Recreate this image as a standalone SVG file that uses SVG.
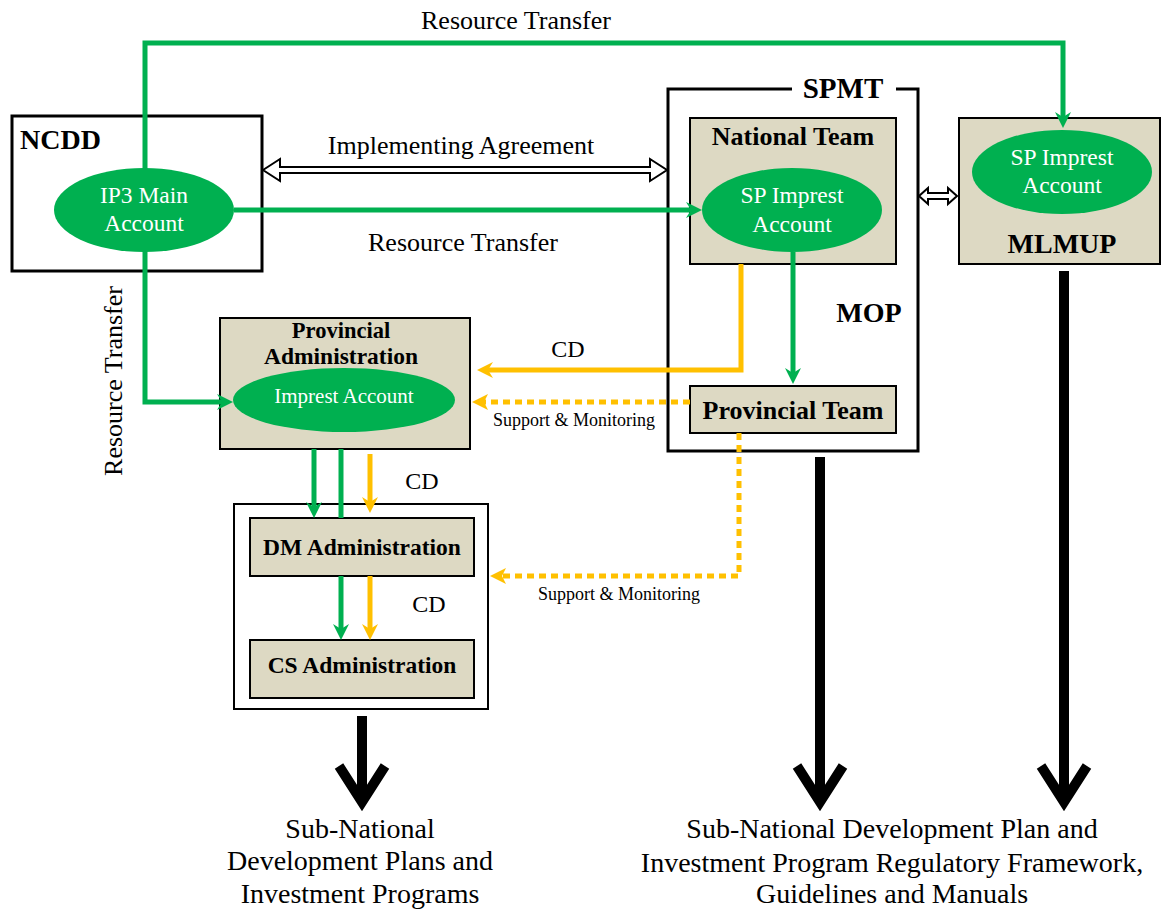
<svg xmlns="http://www.w3.org/2000/svg" width="1162" height="914" viewBox="0 0 1162 914">
<style>
text{font-family:"Liberation Serif","Times New Roman",serif;fill:#000}
.b{font-weight:bold}
.w{fill:#fff}
.box{fill:none;stroke:#000;stroke-width:3}
.tan{fill:#DDD9C3;stroke:#000;stroke-width:2}
.ell{fill:#00B050}
.g{fill:none;stroke:#00B050;stroke-width:5}
.y{fill:none;stroke:#FFC000;stroke-width:5}
.yd{fill:none;stroke:#FFC000;stroke-width:5;stroke-dasharray:7 5}
.k{fill:none;stroke:#000;stroke-width:10;stroke-linejoin:miter}
.dbl{fill:#fff;stroke:#000;stroke-width:2;stroke-linejoin:miter}
.m{text-anchor:middle}
</style>
<defs>
<marker id="ag" viewBox="0 0 16 16" refX="6" refY="8" markerWidth="16" markerHeight="16" markerUnits="userSpaceOnUse" orient="auto">
<path d="M0,0 L16,8 L0,16 L5,8 Z" fill="#00B050"/>
</marker>
<marker id="ay" viewBox="0 0 16 16" refX="6" refY="8" markerWidth="16" markerHeight="16" markerUnits="userSpaceOnUse" orient="auto">
<path d="M0,0 L16,8 L0,16 L5,8 Z" fill="#FFC000"/>
</marker>
</defs>
<rect width="1162" height="914" fill="#fff"/>

<g id="ncdd">
<rect class="box" x="12" y="116" width="250" height="155"/>
<text class="b" x="20" y="149" font-size="28">NCDD</text>
</g>

<g id="spmt">
<path class="box" d="M792,89 L668,89 L668,451 L918,451 L918,89 L896,89"/>
<text class="b m" x="843" y="98" font-size="29">SPMT</text>
<text class="b m" x="869" y="322" font-size="28">MOP</text>
</g>

<g id="national-team">
<rect class="tan" x="690" y="118" width="206" height="146"/>
<text class="b m" x="793" y="145" font-size="26">National Team</text>
</g>

<g id="provincial-team">
<rect class="tan" x="690" y="386" width="206" height="47"/>
<text class="b m" x="793" y="419" font-size="26">Provincial Team</text>
</g>

<g id="mlmup">
<rect class="tan" x="959" y="118" width="201" height="146"/>
<text class="b m" x="1062" y="253" font-size="28">MLMUP</text>
</g>

<g id="provincial-admin">
<rect class="tan" x="220" y="318" width="250" height="131"/>
<text class="b m" x="341" y="338" font-size="22.5">Provincial</text>
<text class="b m" x="341" y="364" font-size="23.5">Administration</text>
</g>

<g id="district-commune">
<rect fill="none" stroke="#000" stroke-width="2" x="234" y="504" width="254" height="205"/>
</g>

<g id="dm-admin">
<rect class="tan" x="250" y="518" width="224" height="58"/>
<text class="b m" x="362" y="555" font-size="23.5">DM Administration</text>
</g>

<g id="cs-admin">
<rect class="tan" x="250" y="640" width="224" height="58"/>
<text class="b m" x="362" y="673" font-size="23.5">CS Administration</text>
</g>

<g id="connectors">
<!-- green resource transfers -->
<path class="g" d="M145,172 L145,43 L1063,43 L1063,118" marker-end="url(#ag)"/>
<path class="g" d="M234,210 L692,210" marker-end="url(#ag)"/>
<path class="g" d="M145,248 L145,402 L223,402" marker-end="url(#ag)"/>
<path class="g" d="M793,252 L793,374" marker-end="url(#ag)"/>
<path class="g" d="M314,449 L314,508" marker-end="url(#ag)"/>
<path class="g" d="M341,449 L341,518"/>
<path class="g" d="M341,576 L341,630" marker-end="url(#ag)"/>
<!-- yellow CD -->
<path class="y" d="M741,264 L741,370 L487,370" marker-end="url(#ay)"/>
<path class="y" d="M370,454 L370,503" marker-end="url(#ay)"/>
<path class="y" d="M370,576 L370,630" marker-end="url(#ay)"/>
<!-- yellow support & monitoring -->
<path class="yd" d="M690,402 L484,402"/>
<path d="M472,402 L488,394 L484,402 L488,410 Z" fill="#FFC000"/>
<path class="yd" d="M739,433 L739,576 L502,576"/>
<path d="M490,576 L506,568 L502,576 L506,584 Z" fill="#FFC000"/>
<!-- implementing agreement double arrows -->
<polygon class="dbl" points="263,170 280,159 280,167 650,167 650,159 667,170 650,181 650,173 280,173 280,181"/>
<polygon class="dbl" points="919,196 928,188 928,193 948,193 948,188 957,196 948,204 948,199 928,199 928,204"/>
<!-- black output arrows -->
<path class="k" d="M362,716 L362,802"/>
<polyline class="k" points="339,766 362,802 385,766"/>
<path class="k" d="M820,457 L820,802"/>
<polyline class="k" points="797,766 820,802 843,766"/>
<path class="k" d="M1064,271 L1064,802"/>
<polyline class="k" points="1041,766 1064,802 1087,766"/>
</g>

<g id="ip3-account">
<ellipse class="ell" cx="144" cy="210" rx="90" ry="42"/>
<text class="w m" x="144" y="203" font-size="23.5">IP3 Main</text>
<text class="w m" x="144" y="231" font-size="23.5">Account</text>
</g>

<g id="sp-imprest-nt">
<ellipse class="ell" cx="792" cy="210" rx="90" ry="42"/>
<text class="w m" x="792" y="203" font-size="23.5">SP Imprest</text>
<text class="w m" x="792" y="232" font-size="23.5">Account</text>
</g>

<g id="sp-imprest-mlmup">
<ellipse class="ell" cx="1062" cy="172" rx="90" ry="42"/>
<text class="w m" x="1062" y="165" font-size="23.5">SP Imprest</text>
<text class="w m" x="1062" y="193" font-size="23.5">Account</text>
</g>

<g id="impress-account">
<ellipse class="ell" cx="344" cy="400" rx="111" ry="32"/>
<text class="w m" x="344" y="403" font-size="21">Imprest Account</text>
</g>

<g id="labels">
<text class="m" x="516" y="29" font-size="26">Resource Transfer</text>
<text class="m" x="461" y="154" font-size="26">Implementing Agreement</text>
<text class="m" x="463" y="251" font-size="26">Resource Transfer</text>
<text class="m" transform="translate(122,381) rotate(-90)" x="0" y="0" font-size="26">Resource Transfer</text>
<text class="m" x="568" y="357" font-size="24">CD</text>
<text class="m" x="574" y="426" font-size="18">Support &amp; Monitoring</text>
<text class="m" x="422" y="489" font-size="24">CD</text>
<text class="m" x="429" y="612" font-size="24">CD</text>
<text class="m" x="619" y="600" font-size="18">Support &amp; Monitoring</text>
<text class="m" x="360" y="838" font-size="28">Sub-National</text>
<text class="m" x="360" y="870" font-size="28">Development Plans and</text>
<text class="m" x="360" y="903" font-size="28">Investment Programs</text>
<text class="m" x="892" y="838" font-size="28">Sub-National Development Plan and</text>
<text class="m" x="892" y="872" font-size="28">Investment Program Regulatory Framework,</text>
<text class="m" x="892" y="903" font-size="28">Guidelines and Manuals</text>
</g>
</svg>
